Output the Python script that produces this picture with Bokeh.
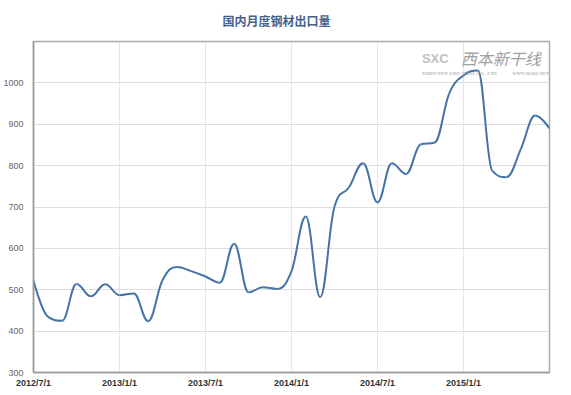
from bokeh.plotting import figure
from bokeh.embed import file_html
from bokeh.resources import INLINE
from bokeh.models import FixedTicker, Range1d, Label

# ---- data ----
months = ["2012-07", "2012-08", "2012-09", "2012-10", "2012-11", "2012-12",
          "2013-01", "2013-02", "2013-03", "2013-04", "2013-05", "2013-06",
          "2013-07", "2013-08", "2013-09", "2013-10", "2013-11", "2013-12",
          "2014-01", "2014-02", "2014-03", "2014-04", "2014-05", "2014-06",
          "2014-07", "2014-08", "2014-09", "2014-10", "2014-11", "2014-12",
          "2015-01", "2015-02", "2015-03", "2015-04", "2015-05", "2015-06",
          "2015-07"]
exports = [522, 435, 425, 514, 484, 513, 487, 491, 424, 523, 555, 545,
           532, 517, 611, 494, 506, 502, 545, 677, 482, 701, 747, 806,
           711, 806, 780, 851, 856, 974, 1018, 1030, 788, 772, 840, 921,
           890]
tick_months = ["2012-07", "2013-01", "2013-07", "2014-01", "2014-07", "2015-01"]
tick_labels = ["2012/7/1", "2013/1/1", "2013/7/1", "2014/1/1", "2014/7/1", "2015/1/1"]
y_ticks = [300, 400, 500, 600, 700, 800, 900, 1000, 1100]

xs = list(range(len(months)))
tick_pos = [months.index(m) for m in tick_months]


def spline_controls(x, y, smoothing=1.5):
    n = len(x)
    denom = smoothing + 1
    left = [None] * n
    right = [None] * n
    for i in range(n):
        if i == 0 or i == n - 1:
            left[i] = right[i] = (x[i], y[i])
            continue
        px, py = x[i], y[i]
        lx, ly = x[i - 1], y[i - 1]
        nx, ny = x[i + 1], y[i + 1]
        lcx = (smoothing * px + lx) / denom
        lcy = (smoothing * py + ly) / denom
        rcx = (smoothing * px + nx) / denom
        rcy = (smoothing * py + ny) / denom
        corr = ((rcy - lcy) * (rcx - px)) / (rcx - lcx) + py - rcy
        lcy += corr
        rcy += corr
        if lcy > ly and lcy > py:
            lcy = max(ly, py); rcy = 2 * py - lcy
        elif lcy < ly and lcy < py:
            lcy = min(ly, py); rcy = 2 * py - lcy
        if rcy > ny and rcy > py:
            rcy = max(ny, py); lcy = 2 * py - rcy
        elif rcy < ny and rcy < py:
            rcy = min(ny, py); lcy = 2 * py - rcy
        left[i] = (lcx, lcy)
        right[i] = (rcx, rcy)
    return left, right


left, right = spline_controls(xs, exports)

p = figure(frame_width=516, frame_height=331, output_backend="svg", toolbar_location=None,
           x_range=Range1d(0, len(months) - 1), y_range=Range1d(300, 1100),
           min_border_left=31, min_border_right=24, min_border_top=40,
           min_border_bottom=24)

p.title.text = "国内月度钢材出口量"
p.title.align = "left"
p.title.offset = 189
p.title.text_font = "Noto Sans CJK SC"
p.title.text_font_size = "12px"
p.title.text_color = "#46628c"
p.title.text_font_style = "bold"
p.title.vertical_align = "top"
p.title.standoff = 22

p.bezier(x0=xs[:-1], y0=exports[:-1], x1=xs[1:], y1=exports[1:],
         cx0=[c[0] for c in right[:-1]], cy0=[c[1] for c in right[:-1]],
         cx1=[c[0] for c in left[1:]], cy1=[c[1] for c in left[1:]],
         line_color="#4572A7", line_width=2)

p.xaxis.ticker = FixedTicker(ticks=tick_pos)
p.xaxis.major_label_overrides = {t: l for t, l in zip(tick_pos, tick_labels)}
p.xaxis.major_label_text_font = "Liberation Sans"
p.xaxis.major_label_text_font_size = "9px"
p.xaxis.major_label_text_font_style = "bold"
p.xaxis.major_label_text_color = "#333333"
p.xaxis.major_label_standoff = 5
p.xaxis.axis_label_standoff = 0
p.xaxis.major_tick_line_color = None
p.xaxis.major_tick_in = 0
p.xaxis.major_tick_out = 0
p.xaxis.minor_tick_line_color = None
p.xaxis.axis_line_color = "#999999"
p.xaxis.axis_line_width = 1.5

p.yaxis.ticker = FixedTicker(ticks=y_ticks[:-1])
p.yaxis.major_label_text_font = "Liberation Sans"
p.yaxis.major_label_text_font_size = "9px"
p.yaxis.major_label_text_color = "#666666"
p.yaxis.major_label_standoff = 10
p.yaxis.axis_label_standoff = 0
p.yaxis.major_tick_line_color = None
p.yaxis.major_tick_in = 0
p.yaxis.major_tick_out = 0
p.yaxis.minor_tick_line_color = None
p.yaxis.axis_line_color = "#999999"
p.yaxis.axis_line_width = 1.5

p.xgrid.ticker = FixedTicker(ticks=tick_pos)
p.xgrid.grid_line_color = "#e4e4ec"
p.ygrid.ticker = FixedTicker(ticks=y_ticks)
p.ygrid.grid_line_color = "#dddddd"
p.outline_line_color = "#aaaaaa"
p.outline_line_width = 1.5

# watermark logo
p.add_layout(Label(x=27.1, y=1059, text="SXC", text_font="Liberation Sans",
                   text_font_size="13px", text_font_style="bold", text_color="#c0c0c0",
                   text_baseline="middle"))
p.add_layout(Label(x=29.8, y=1059, text="西本新干线", text_font="Noto Sans CJK SC",
                   text_font_size="16px", text_font_style="italic", text_color="#a0a0a0",
                   text_baseline="middle"))
p.add_layout(Label(x=27.1, y=1023, text="XIBEN NEW LINE STEEL CO., LTD.",
                   text_font="Liberation Serif", text_font_size="5px",
                   text_font_style="italic", text_color="#999999", text_baseline="middle"))
p.add_layout(Label(x=33.4, y=1023, text="WWW.96369.NET",
                   text_font="Liberation Serif", text_font_size="5px",
                   text_font_style="italic", text_color="#999999", text_baseline="middle"))

open("out.html", "w").write(file_html(p, INLINE))
